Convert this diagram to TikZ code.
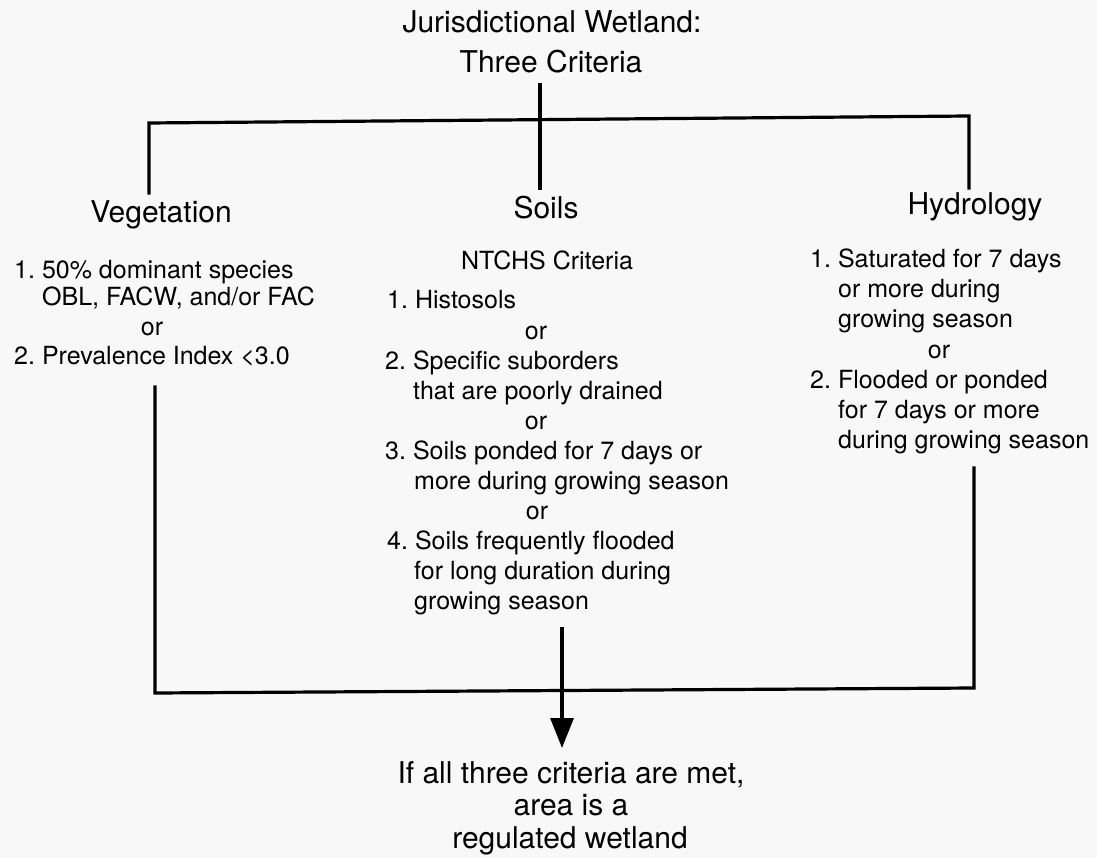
\documentclass[tikz,border=0pt]{standalone}
\usepackage{fontspec}
\setmainfont{TeX Gyre Heros}
\usetikzlibrary{arrows.meta}
\definecolor{paper}{RGB}{248,248,248}
\frenchspacing
\begin{document}
\begin{tikzpicture}[x=1pt,y=-1pt,
  body/.style={anchor=base west, inner sep=0pt, font=\fontsize{25}{30}\selectfont},
  bodyc/.style={anchor=base, inner sep=0pt, font=\fontsize{25}{30}\selectfont},
  head/.style={anchor=base, inner sep=0pt, font=\fontsize{30}{36}\selectfont},
  conn/.style={line width=3.2pt, line join=miter, line cap=rect}]
\fill[paper] (0,0) rectangle (1097,858);
\useasboundingbox (0,0) rectangle (1097,858);

% title
\node[head] (t1) at (552,33) {Jurisdictional Wetland:};
\node[head] (t2) at (551,73) {Three Criteria};

% headings
\node[head] (veg) at (161,223) {Vegetation};
\node[head] (soil) at (546,219) {Soils};
\node[head] (hyd) at (975,215) {Hydrology};

% vegetation
\node[body] (v1) at (14,279) {1. 50\% dominant species};
\node[body] (v2) at (42,306) {OBL, FACW, and/or FAC};
\node[bodyc] (v3) at (152,335) {or};
\node[body] (v4) at (14,364) {2. Prevalence Index <3.0};

% soils
\node[bodyc] (s0) at (547,270) {NTCHS Criteria};
\node[body] (s1) at (387,309) {1. Histosols};
\node[bodyc] (s2) at (536,339) {or};
\node[body] (s3) at (385,369) {2. Specific suborders};
\node[body] (s4) at (413,399) {that are poorly drained};
\node[bodyc] (s5) at (536,429) {or};
\node[body] (s6) at (385,459) {3. Soils ponded for 7 days or};
\node[body] (s7) at (414,489) {more during growing season};
\node[bodyc] (s8) at (537,519) {or};
\node[body] (s9) at (387,549) {4. Soils frequently flooded};
\node[body] (s10) at (414,579) {for long duration during};
\node[body] (s11) at (414,609) {growing season};

% hydrology
\node[body] (h1) at (810,268) {1. Saturated for 7 days};
\node[body] (h2) at (838,298) {or more during};
\node[body] (h3) at (838,328) {growing season};
\node[bodyc] (h4) at (939,358) {or};
\node[body] (h5) at (810,388) {2. Flooded or ponded};
\node[body] (h6) at (838,418) {for 7 days or more};
\node[body] (h7) at (838,448) {during growing season};

% result
\node[head] (r1) at (571,783) {If all three criteria are met,};
\node[head] (r2) at (571,815) {area is a};
\node[head] (r3) at (570,848) {regulated wetland};

% connector points
\coordinate (ct) at (540,85);
\coordinate (cb) at (540,188);
\coordinate (tl) at (149,123);
\coordinate (tr) at (969,116);
\coordinate (vl) at (149,193);
\coordinate (vr) at (969,188);
\coordinate (bl1) at (155,387);
\coordinate (bl2) at (155,693);
\coordinate (br1) at (974,468);
\coordinate (br2) at (974,688);
\coordinate (a1) at (562,627);
\coordinate (a2) at (562,748);

\draw[conn] (ct) -- (cb);
\draw[conn] (vl) -- (tl) -- (tr) -- (vr);
\draw[conn] (bl1) -- (bl2) -- (br2) -- (br1);
\draw[conn, line cap=butt, -{Triangle[width=23pt,length=30pt]}] (a1) -- (a2);
\end{tikzpicture}
\end{document}
